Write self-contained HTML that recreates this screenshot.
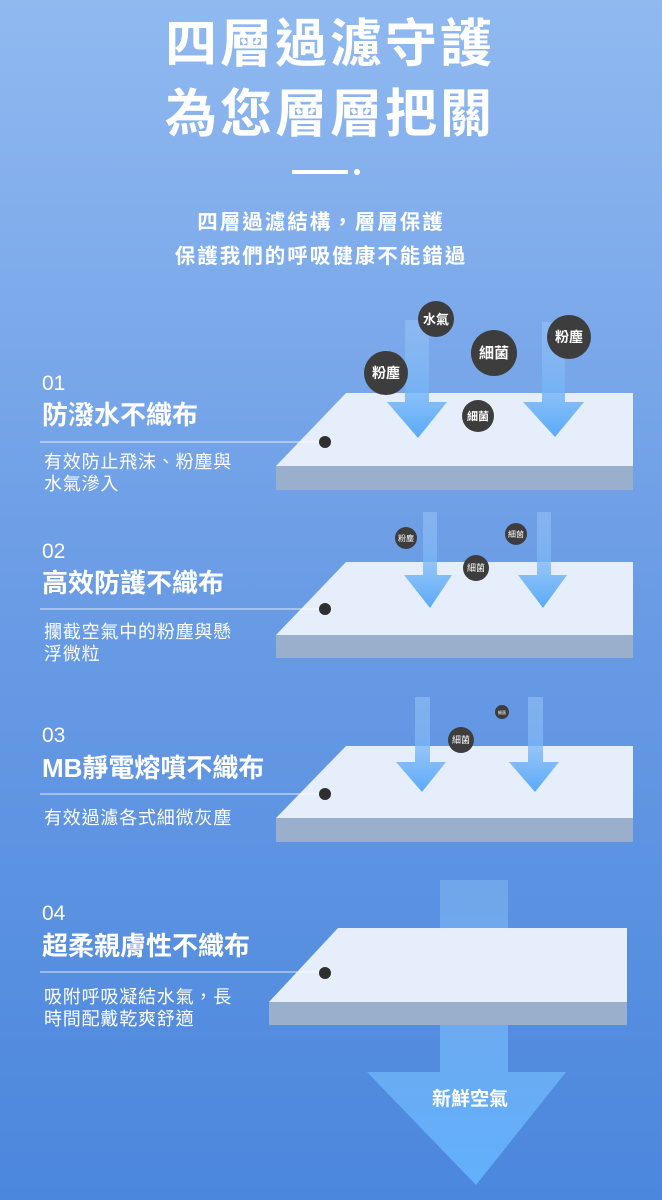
<!DOCTYPE html>
<html><head><meta charset="utf-8"><style>
body{margin:0;width:662px;height:1200px;overflow:hidden;background:linear-gradient(#90b9f0,#6d9ee6 45%,#4b87dd);font-family:"Liberation Sans","Noto Sans CJK TC",sans-serif}
svg{display:block}
text{font-family:"Liberation Sans","Noto Sans CJK TC",sans-serif;fill:#fff}
</style></head><body>
<svg width="662" height="1200" viewBox="0 0 662 1200">
<defs>
<linearGradient id="ar" x1="0" y1="0" x2="0" y2="1"><stop offset="0" stop-color="#9cc6f6" stop-opacity=".5"/><stop offset="1" stop-color="#5aaaf8"/></linearGradient>
<linearGradient id="ar2" x1="0" y1="0" x2="0" y2="1"><stop offset="0" stop-color="#7fb4f0" stop-opacity=".6"/><stop offset="1" stop-color="#62b0fc"/></linearGradient>
</defs>
<text x="330" y="62" font-size="52" font-weight="bold" text-anchor="middle" letter-spacing="3">四層過濾守護</text>
<text x="330" y="132" font-size="52" font-weight="bold" text-anchor="middle" letter-spacing="3">為您層層把關</text>
<rect x="292" y="170" width="56" height="4" fill="#fff"/><circle cx="357" cy="172" r="3" fill="#fff"/>
<text x="321" y="229" font-size="20.5" font-weight="bold" text-anchor="middle" letter-spacing="2">四層過濾結構，層層保護</text>
<text x="321" y="263" font-size="20.5" font-weight="bold" text-anchor="middle" letter-spacing="2">保護我們的呼吸健康不能錯過</text>

<path d="M440 880 H508 V1072 H566 L476 1185 L367 1072 H440Z" fill="url(#ar2)"/>
<text x="470" y="1105" font-size="19" font-weight="bold" text-anchor="middle">新鮮空氣</text>

<polygon points="276,466 346,393 633,393 633,466" fill="#e5eefa"/>
<rect x="276" y="466" width="357" height="24" fill="#9aafcc"/>
<path d="M405 320H429V402H447L418 438L387 402H405Z" fill="url(#ar)"/>
<path d="M542 322H565V402H584L555 437L523 402H542Z" fill="url(#ar)"/>
<g font-size="13" text-anchor="middle" font-weight="bold">
<circle cx="436" cy="319" r="18" fill="#3d3d3d"/><text x="436" y="324">水氣</text>
<circle cx="494" cy="353" r="23" fill="#3d3d3d"/><text x="494" y="358" font-size="15">細菌</text>
<circle cx="569" cy="337" r="22" fill="#3d3d3d"/><text x="569" y="342" font-size="14">粉塵</text>
<circle cx="386" cy="373" r="22" fill="#3d3d3d"/><text x="386" y="378" font-size="14">粉塵</text>
<circle cx="478" cy="416" r="16" fill="#3d3d3d"/><text x="478" y="420" font-size="11">細菌</text>
</g>
<polygon points="276,635 346,562 633,562 633,635" fill="#e5eefa"/>
<rect x="276" y="635" width="357" height="23" fill="#9aafcc"/>
<path d="M423 512H437V575H452L430 608L404 575H423Z" fill="url(#ar)"/>
<path d="M537 512H551V575H567L543 608L518 575H537Z" fill="url(#ar)"/>
<g font-size="8" text-anchor="middle">
<circle cx="406" cy="538" r="11" fill="#3d3d3d"/><text x="406" y="541">粉塵</text>
<circle cx="516" cy="534" r="11" fill="#3d3d3d"/><text x="516" y="537">細菌</text>
<circle cx="476" cy="568" r="13" fill="#3d3d3d"/><text x="476" y="571" font-size="9">細菌</text>
</g>
<polygon points="276,818 346,746 633,746 633,818" fill="#e5eefa"/>
<rect x="276" y="818" width="357" height="24" fill="#9aafcc"/>
<path d="M415 697H430V762H446L422 792L396 762H415Z" fill="url(#ar)"/>
<path d="M528 697H543V762H559L535 792L509 762H528Z" fill="url(#ar)"/>
<g font-size="8" text-anchor="middle">
<circle cx="502" cy="712" r="7" fill="#3d3d3d"/><text x="502" y="714" font-size="4">細菌</text>
<circle cx="461" cy="740" r="13" fill="#3d3d3d"/><text x="461" y="743" font-size="9">細菌</text>
</g>
<polygon points="269,1002 338,928 627,928 627,1002" fill="#e5eefa"/>
<rect x="269" y="1002" width="358" height="23" fill="#9aafcc"/>

<g>
<text x="42" y="390" font-size="21">01</text>
<text x="42" y="424" font-size="26" font-weight="bold">防潑水不織布</text>
<line x1="40" y1="442" x2="325" y2="442" stroke="#fff" stroke-opacity=".8"/>
<circle cx="325" cy="442" r="6" fill="#2f2f2f"/>
<text x="44" y="468" font-size="18" letter-spacing="0.8">有效防止飛沫、粉塵與</text>
<text x="44" y="490" font-size="18" letter-spacing="0.8">水氣滲入</text>

<text x="42" y="558" font-size="21">02</text>
<text x="42" y="592" font-size="26" font-weight="bold">高效防護不織布</text>
<line x1="40" y1="609" x2="325" y2="609" stroke="#fff" stroke-opacity=".8"/>
<circle cx="325" cy="609" r="6" fill="#2f2f2f"/>
<text x="44" y="638" font-size="18" letter-spacing="0.8">攔截空氣中的粉塵與懸</text>
<text x="44" y="660" font-size="18" letter-spacing="0.8">浮微粒</text>

<text x="42" y="742" font-size="21">03</text>
<text x="42" y="777" font-size="26" font-weight="bold">MB靜電熔噴不織布</text>
<line x1="40" y1="794" x2="325" y2="794" stroke="#fff" stroke-opacity=".8"/>
<circle cx="325" cy="794" r="6" fill="#2f2f2f"/>
<text x="44" y="824" font-size="18" letter-spacing="0.8">有效過濾各式細微灰塵</text>

<text x="42" y="920" font-size="21">04</text>
<text x="42" y="955" font-size="26" font-weight="bold">超柔親膚性不織布</text>
<line x1="40" y1="972" x2="325" y2="972" stroke="#fff" stroke-opacity=".8"/>
<circle cx="325" cy="973" r="6" fill="#2f2f2f"/>
<text x="44" y="1003" font-size="18" letter-spacing="0.8">吸附呼吸凝結水氣，長</text>
<text x="44" y="1025" font-size="18" letter-spacing="0.8">時間配戴乾爽舒適</text>
</g>
</svg>
</body></html>
